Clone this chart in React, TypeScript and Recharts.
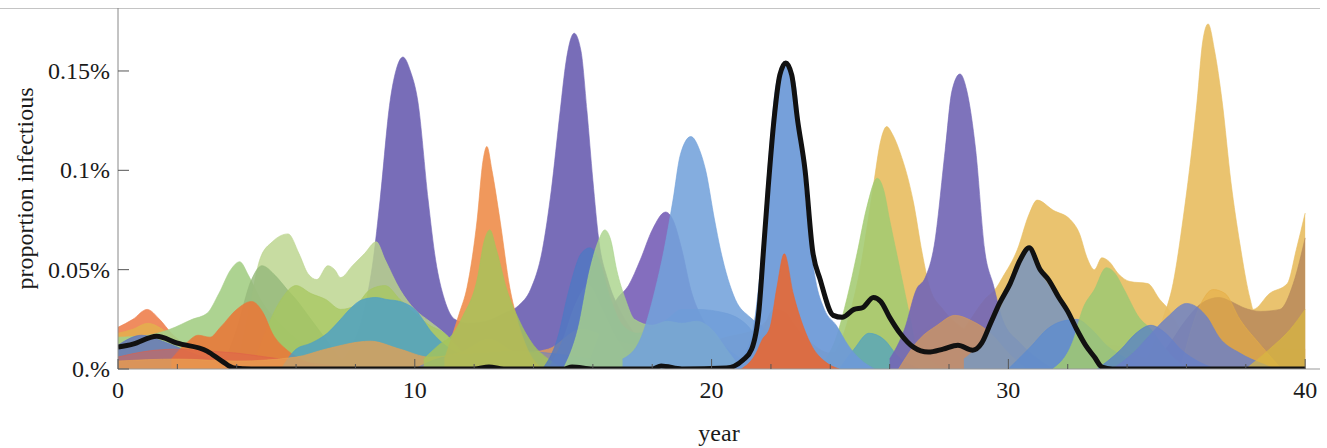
import { ComposedChart, Area, Line, XAxis, YAxis } from 'recharts';

type Pt = [number, number];

// x = year, y = proportion infectious (in %)
const X_TICKS = [0, 2, 4, 6, 8, 10, 12, 14, 16, 18, 20, 22, 24, 26, 28, 30, 32, 34, 36, 38, 40];
const Y_TICKS = [0, 0.05, 0.1, 0.15];

const salmon0: Pt[] = [[0, 0.021], [0.5, 0.025], [0.98, 0.03], [1.4, 0.025], [1.8, 0.018], [2.3, 0.012], [3, 0.008], [4, 0.004], [5, 0]];
const gold0: Pt[] = [[0, 0.018], [0.5, 0.02], [1, 0.023], [1.5, 0.02], [2, 0.014], [3, 0.008], [4, 0.004], [5, 0]];
const blue0: Pt[] = [[0, 0.012], [0.8, 0.017], [1.5, 0.014], [2.5, 0.008], [3.5, 0.003], [4.5, 0]];
const red0: Pt[] = [[0, 0.006], [1, 0.009], [2, 0.01], [3, 0.009], [4, 0.008], [5, 0.006], [6, 0.004], [7, 0.002], [8, 0]];

const greenA: Pt[] = [[0, 0.016], [1, 0.017], [1.75, 0.02], [2.5, 0.025], [3, 0.028], [3.4, 0.038], [3.8, 0.05], [4.1, 0.054], [4.4, 0.047], [4.8, 0.035], [5.3, 0.025], [6, 0.015], [7, 0.005], [8, 0]];
const greenC: Pt[] = [[4, 0], [4.3, 0.02], [4.8, 0.056], [5.2, 0.064], [5.73, 0.068], [6.1, 0.058], [6.4, 0.048], [6.7, 0.045], [7.07, 0.052], [7.3, 0.05], [7.5, 0.046], [7.9, 0.052], [8.3, 0.058], [8.7, 0.064], [9, 0.055], [9.5, 0.04], [10, 0.03], [10.5, 0.024], [11, 0.018], [11.5, 0.01], [12, 0]];
const greenB: Pt[] = [[3.5, 0], [4, 0.02], [4.5, 0.045], [4.85, 0.052], [5.3, 0.047], [5.7, 0.04], [6, 0.035], [6.5, 0.025], [7, 0.015], [7.5, 0.005], [8, 0]];
const greenD: Pt[] = [[4.5, 0], [5, 0.02], [5.5, 0.035], [6, 0.042], [6.5, 0.038], [7, 0.035], [7.5, 0.03], [8, 0.032], [8.5, 0.04], [9, 0.042], [9.5, 0.035], [10, 0.028], [10.5, 0.022], [11, 0.018], [11.5, 0.01], [12, 0]];
const orangeE: Pt[] = [[1.8, 0.005], [2.3, 0.013], [2.7, 0.017], [3.1, 0.016], [3.45, 0.021], [4, 0.03], [4.5, 0.034], [4.9, 0.028], [5.2, 0.018], [5.7, 0.0095], [6.3, 0.004], [7, 0]];
const teal: Pt[] = [[5.5, 0], [6, 0.01], [6.5, 0.013], [7.05, 0.018], [7.5, 0.025], [7.8, 0.03], [8.25, 0.035], [8.7, 0.036], [9.05, 0.035], [9.5, 0.034], [10, 0.03], [10.6, 0.018], [11.2, 0.01], [12, 0.005], [12.5, 0]];
const orangeLow: Pt[] = [[0, 0.004], [2, 0.005], [4, 0.004], [6, 0.006], [7, 0.01], [8.5, 0.014], [9.5, 0.01], [10.5, 0.006], [11.5, 0.008], [12.5, 0.015], [13.5, 0.008], [14.5, 0.01], [15.6, 0.02], [16.5, 0.016], [17.5, 0.012], [18.5, 0.014], [19.5, 0.012], [20.5, 0.016], [21.5, 0.02], [22.3, 0.028], [23.2, 0.015], [24, 0.008], [25, 0.012], [25.8, 0.02], [26.5, 0.015], [27.5, 0.022], [28.5, 0.02], [29.5, 0.012], [30.5, 0.008], [31.5, 0.01], [32.5, 0.008], [33.5, 0.012], [34.5, 0.006], [35.5, 0.004], [36.5, 0.01], [37.5, 0.015], [38.5, 0.012], [39.5, 0.01], [40, 0.01]];
const lowBlue: Pt[] = [[10, 0], [11, 0.006], [12.5, 0.008], [13.5, 0.009], [14.5, 0.008], [15.5, 0.006], [16.5, 0.004], [18, 0.004], [19.5, 0.005], [21, 0.004], [22.5, 0.003], [24, 0.004], [26, 0.003], [28, 0.004], [30, 0.003], [31, 0]];

const purple12: Pt[] = [[7, 0], [7.8, 0.01], [8.3, 0.03], [8.6, 0.055], [8.83, 0.085], [9.17, 0.135], [9.4, 0.152], [9.6, 0.157], [9.85, 0.15], [10.1, 0.135], [10.45, 0.085], [10.7, 0.055], [11, 0.035], [11.35, 0.025], [11.8, 0.023], [12.4, 0.024], [13, 0.028], [13.5, 0.032], [13.9, 0.04], [14.3, 0.06], [14.6, 0.09], [14.9, 0.13], [15.1, 0.155], [15.37, 0.169], [15.6, 0.16], [15.8, 0.13], [16, 0.095], [16.2, 0.065], [16.5, 0.045], [16.9, 0.03], [17.3, 0.02], [18, 0.008], [18.5, 0]];
const orange12: Pt[] = [[11, 0.005], [11.5, 0.028], [11.76, 0.041], [12.1, 0.075], [12.3, 0.105], [12.43, 0.112], [12.6, 0.1], [12.87, 0.075], [13.2, 0.041], [13.45, 0.025], [13.8, 0.01], [14.3, 0]];
const green12: Pt[] = [[10.3, 0.005], [10.8, 0.012], [11.3, 0.018], [11.6, 0.026], [12.1, 0.045], [12.35, 0.065], [12.53, 0.07], [12.75, 0.06], [13.1, 0.04], [13.5, 0.025], [14, 0.012], [14.5, 0.005], [15, 0]];

const purple3: Pt[] = [[15.8, 0], [16.3, 0.02], [16.8, 0.035], [17.2, 0.042], [17.6, 0.055], [18, 0.07], [18.45, 0.079], [18.7, 0.075], [19, 0.06], [19.3, 0.04], [19.7, 0.025], [20.2, 0.015], [21, 0.005], [21.5, 0]];
const slate15: Pt[] = [[14.5, 0], [15, 0.015], [15.4, 0.032], [15.85, 0.042], [16.3, 0.03], [16.8, 0.015], [17.3, 0.005], [17.8, 0]];
const midBlue: Pt[] = [[14.3, 0], [14.8, 0.015], [15.2, 0.04], [15.6, 0.058], [15.9, 0.061], [16.2, 0.055], [16.6, 0.035], [17, 0.022], [17.5, 0.018], [18, 0.02], [18.5, 0.025], [19, 0.03], [19.5, 0.03], [20.5, 0.028], [21.2, 0.022], [21.8, 0.01], [22.5, 0]];
const green16: Pt[] = [[15, 0], [15.5, 0.02], [15.9, 0.05], [16.2, 0.065], [16.4, 0.07], [16.6, 0.065], [16.8, 0.05], [17.1, 0.035], [17.4, 0.025], [18, 0.022], [18.5, 0.024], [19, 0.023], [19.5, 0.024], [20, 0.02], [20.5, 0.01], [21, 0]];
const blue19: Pt[] = [[17, 0.005], [17.6, 0.015], [18.1, 0.04], [18.4, 0.06], [18.7, 0.085], [18.95, 0.108], [19.3, 0.117], [19.6, 0.11], [19.8, 0.1], [20.1, 0.075], [20.3, 0.06], [20.8, 0.035], [21.3, 0.026], [21.8, 0.02], [22.3, 0.01], [23, 0]];

const gold1: Pt[] = [[23.8, 0], [24.5, 0.02], [25, 0.05], [25.45, 0.092], [25.7, 0.115], [25.9, 0.122], [26.1, 0.118], [26.35, 0.109], [26.8, 0.084], [27.1, 0.058], [27.35, 0.041], [27.8, 0.03], [28.5, 0.02], [29.5, 0.01], [30.5, 0]];
const gold2: Pt[] = [[27.5, 0], [28.5, 0.02], [29.2, 0.035], [29.6, 0.041], [29.8, 0.046], [30.3, 0.06], [30.7, 0.078], [30.97, 0.085], [31.5, 0.08], [32.1, 0.075], [32.4, 0.068], [32.65, 0.056], [32.9, 0.05], [33.15, 0.056], [33.4, 0.054], [33.7, 0.048], [34.1, 0.044], [34.7, 0.043], [35.1, 0.035], [35.4, 0.03], [35.8, 0.02], [36.3, 0.01], [37, 0]];
const gold3: Pt[] = [[34.5, 0], [35.2, 0.025], [35.55, 0.043], [35.9, 0.077], [36.1, 0.1], [36.36, 0.135], [36.55, 0.165], [36.73, 0.1737], [36.95, 0.16], [37.2, 0.135], [37.5, 0.094], [37.8, 0.063], [38.15, 0.035], [38.25, 0.03], [38.8, 0.038], [39.4, 0.043], [39.7, 0.06], [40, 0.0785]];
const green25: Pt[] = [[23.5, 0], [24.2, 0.016], [24.57, 0.036], [24.9, 0.058], [25.24, 0.082], [25.58, 0.096], [25.8, 0.09], [26, 0.075], [26.35, 0.05], [26.7, 0.025], [26.9, 0.011], [27.5, 0.003], [28, 0]];
const teal25: Pt[] = [[24.3, 0], [24.8, 0.01], [25.3, 0.018], [25.8, 0.015], [26.3, 0.006], [27, 0]];
const purple4: Pt[] = [[26, 0.005], [26.5, 0.02], [26.9, 0.04], [27.2, 0.046], [27.5, 0.062], [27.87, 0.11], [28.1, 0.14], [28.37, 0.1485], [28.6, 0.14], [28.9, 0.11], [29.2, 0.06], [29.5, 0.042], [29.8, 0.025], [30.4, 0.013], [31, 0.005], [31.5, 0]];
const tan28: Pt[] = [[26.3, 0], [27, 0.015], [27.6, 0.022], [28.2, 0.027], [28.8, 0.024], [29.4, 0.018], [30, 0.008], [30.6, 0]];
const brown: Pt[] = [[34.5, 0], [35.3, 0.01], [36, 0.025], [36.5, 0.033], [37.1, 0.036], [37.5, 0.034], [37.9, 0.031], [38.5, 0.029], [39.15, 0.03], [39.6, 0.043], [40, 0.066]];
const gold37: Pt[] = [[35.8, 0], [36.4, 0.03], [36.9, 0.04], [37.3, 0.038], [37.8, 0.025], [38.5, 0.012], [39.2, 0]];
const slate30: Pt[] = [[28.5, 0.005], [29.4, 0.02], [30.06, 0.042], [30.7, 0.06], [31.07, 0.049], [31.7, 0.035], [32.3, 0.019], [32.9, 0.005], [33.3, 0]];
const blue32: Pt[] = [[30, 0], [30.8, 0.012], [31.3, 0.02], [31.8, 0.024], [32.3, 0.025], [32.8, 0.02], [33.3, 0.012], [34, 0.005], [34.5, 0]];
const green33: Pt[] = [[31.5, 0], [32.2, 0.015], [32.5, 0.03], [32.9, 0.04], [33.3, 0.051], [33.6, 0.048], [33.9, 0.04], [34.4, 0.026], [34.8, 0.02], [35.3, 0.01], [36, 0]];
const blue34: Pt[] = [[33, 0], [33.8, 0.01], [34.3, 0.018], [34.8, 0.022], [35.3, 0.018], [35.8, 0.01], [36.5, 0.003], [37, 0]];
const blue36: Pt[] = [[33.5, 0], [34.2, 0.008], [34.7, 0.016], [35.35, 0.026], [36, 0.033], [36.7, 0.026], [37.1, 0.016], [37.8, 0.008], [38.5, 0.003], [39, 0]];
const yellow40: Pt[] = [[38, 0], [38.8, 0.01], [39.5, 0.02], [40, 0.03]];
const purple22: Pt[] = [[21.5, 0], [22.4, 0.025], [23.3, 0]];
const orange22: Pt[] = [[21, 0], [21.6, 0.015], [22.1, 0.03], [22.5, 0.028], [23, 0.015], [23.5, 0.005], [24, 0]];
const blue22: Pt[] = [[20.5, 0], [21, 0.005], [21.4, 0.02], [21.7, 0.06], [21.95, 0.11], [22.2, 0.145], [22.5, 0.153], [22.8, 0.145], [23, 0.115], [23.2, 0.08], [23.5, 0.045], [23.8, 0.03], [24.2, 0.022], [24.6, 0.012], [25, 0.005], [25.5, 0]];
const red22: Pt[] = [[21, 0], [21.5, 0.008], [21.7, 0.0146], [21.97, 0.021], [22.2, 0.041], [22.45, 0.058], [22.75, 0.038], [23.1, 0.021], [23.4, 0.011], [23.8, 0.004], [24.3, 0]];

const blackLine: Pt[] = [[0, 0.011], [0.5, 0.0125], [1.3, 0.0165], [2, 0.013], [3, 0.009], [3.5, 0.004], [3.9, 0.0005], [4.5, 0], [12, 0], [12.5, 0.001], [13, 0], [15, 0], [15.3, 0.001], [16, 0], [18, 0], [18.3, 0.0015], [19, 0], [20.5, 0.0005], [21.06, 0.0045], [21.35, 0.01], [21.6, 0.03], [21.75, 0.06], [21.9, 0.09], [22.1, 0.125], [22.3, 0.148], [22.5, 0.154], [22.7, 0.148], [22.9, 0.125], [23.15, 0.1], [23.4, 0.06], [23.66, 0.045], [24.1, 0.027], [24.4, 0.026], [24.8, 0.03], [25.1, 0.031], [25.45, 0.036], [25.7, 0.034], [26, 0.026], [26.35, 0.018], [26.8, 0.011], [27.3, 0.0085], [27.8, 0.01], [28.3, 0.012], [28.8, 0.0095], [29.1, 0.013], [29.4, 0.023], [29.7, 0.033], [30.06, 0.043], [30.4, 0.055], [30.7, 0.061], [31.07, 0.05], [31.35, 0.045], [31.7, 0.036], [32, 0.029], [32.3, 0.02], [32.6, 0.012], [32.9, 0.006], [33.15, 0.001], [33.5, 0], [40, 0]];

// drawing order: first is at the back
const SERIES: { key: string; pts: Pt[]; color: string; op: number }[] = [
  { key: 'salmon0', pts: salmon0, color: '#EE7F4E', op: 0.9 },
  { key: 'gold0', pts: gold0, color: '#E3B24C', op: 0.8 },
  { key: 'purple12', pts: purple12, color: '#7367B5', op: 0.96 },
  { key: 'greenA', pts: greenA, color: '#A6CF88', op: 0.92 },
  { key: 'greenC', pts: greenC, color: '#BBD48C', op: 0.82 },
  { key: 'greenB', pts: greenB, color: '#96BA7C', op: 0.85 },
  { key: 'greenD', pts: greenD, color: '#A7C75F', op: 0.75 },
  { key: 'blue0', pts: blue0, color: '#5B6CC2', op: 0.75 },
  { key: 'orangeE', pts: orangeE, color: '#E8793A', op: 0.9 },
  { key: 'red0', pts: red0, color: '#E0604A', op: 0.55 },
  { key: 'teal', pts: teal, color: '#4A9FC8', op: 0.8 },
  { key: 'orangeLow', pts: orangeLow, color: '#EAA050', op: 0.75 },
  { key: 'lowBlue', pts: lowBlue, color: '#6F86C0', op: 0.6 },
  { key: 'orange12', pts: orange12, color: '#EF8F4E', op: 0.92 },
  { key: 'green12', pts: green12, color: '#A5C55A', op: 0.82 },
  { key: 'purple3', pts: purple3, color: '#7A62B8', op: 0.92 },
  { key: 'slate15', pts: slate15, color: '#8A8FB8', op: 0.7 },
  { key: 'midBlue', pts: midBlue, color: '#4E78C4', op: 0.78 },
  { key: 'green16', pts: green16, color: '#A9D38A', op: 0.8 },
  { key: 'blue19', pts: blue19, color: '#73A2DB', op: 0.88 },
  { key: 'gold1', pts: gold1, color: '#E8BE63', op: 0.92 },
  { key: 'gold2', pts: gold2, color: '#E8BE63', op: 0.92 },
  { key: 'gold3', pts: gold3, color: '#E8BE63', op: 0.92 },
  { key: 'green25', pts: green25, color: '#A3CB72', op: 0.88 },
  { key: 'teal25', pts: teal25, color: '#4A9FC8', op: 0.7 },
  { key: 'purple4', pts: purple4, color: '#7367B5', op: 0.92 },
  { key: 'tan28', pts: tan28, color: '#D39A5E', op: 0.75 },
  { key: 'brown', pts: brown, color: '#B88A5C', op: 0.85 },
  { key: 'gold37', pts: gold37, color: '#E6AE45', op: 0.6 },
  { key: 'slate30', pts: slate30, color: '#7F98B8', op: 0.92 },
  { key: 'blue32', pts: blue32, color: '#5B8BD0', op: 0.75 },
  { key: 'green33', pts: green33, color: '#9FC873', op: 0.88 },
  { key: 'blue34', pts: blue34, color: '#4F7AD0', op: 0.7 },
  { key: 'blue36', pts: blue36, color: '#6A80C8', op: 0.82 },
  { key: 'yellow40', pts: yellow40, color: '#D9B840', op: 0.7 },
  { key: 'purple22', pts: purple22, color: '#8A70B0', op: 0.7 },
  { key: 'orange22', pts: orange22, color: '#E79A4F', op: 0.75 },
  { key: 'blue22', pts: blue22, color: '#6D9AD8', op: 0.94 },
  { key: 'red22', pts: red22, color: '#E96630', op: 0.88 },
];

const toRows = (pts: Pt[]) => pts.map(([x, y]) => ({ x, y }));

const FONT = '"Liberation Serif", "Times New Roman", serif';

const fmtY = (v: number) => (v === 0 ? '0.%' : `${v}%`);

function XTick(props: any) {
  const { x, y, payload } = props;
  const major = payload.value % 10 === 0;
  return (
    <g>
      <line x1={x} x2={x} y1={y} y2={y - (major ? 10 : 5)} stroke="#555" strokeWidth={1} />
      {major && (
        <text x={x} y={y + 29} textAnchor="middle" fontSize={24} fill="#1a1a1a" fontFamily={FONT}>
          {payload.value}
        </text>
      )}
    </g>
  );
}

function YTick(props: any) {
  const { x, y, payload } = props;
  return (
    <g>
      <line x1={x} x2={x + 11} y1={y} y2={y} stroke="#555" strokeWidth={1} />
      <text x={x - 8} y={y + 8} textAnchor="end" fontSize={24} fill="#1a1a1a" fontFamily={FONT}>
        {fmtY(payload.value)}
      </text>
    </g>
  );
}

export default function App() {
  return (
    <div style={{ position: 'relative', width: 1327, height: 448, background: '#fff', fontFamily: FONT }}>
      <style>{'body{margin:0}'}</style>
      {/* thin frame line along the top */}
      <div style={{ position: 'absolute', left: 0, top: 8, width: 1320, height: 1, background: '#c4c4c4' }} />
      <ComposedChart width={1327} height={448} margin={{ top: 8, right: 7, left: 0, bottom: 0 }}>
        <XAxis
          dataKey="x"
          type="number"
          domain={[0, 40.5]}
          ticks={X_TICKS}
          interval={0}
          height={79}
          tickSize={0}
          tickMargin={0}
          tick={<XTick />}
          axisLine={{ stroke: '#999' }}
          allowDataOverflow
          label={({ viewBox }: any) => (
            <text x={viewBox.x + viewBox.width / 2} y={viewBox.y + 72} textAnchor="middle" fontSize={24} fill="#1a1a1a" fontFamily={FONT}>
              year
            </text>
          )}
        />
        <YAxis
          type="number"
          domain={[0, 0.1817]}
          ticks={Y_TICKS}
          width={118}
          tickSize={0}
          tickMargin={0}
          tick={<YTick />}
          axisLine={{ stroke: '#888' }}
          allowDataOverflow
          label={({ viewBox }: any) => {
            const cx = viewBox.x + 25;
            const cy = viewBox.y + viewBox.height / 2;
            return (
              <text x={cx} y={cy} transform={`rotate(-90 ${cx} ${cy})`} textAnchor="middle" dominantBaseline="central" fontSize={24} fill="#1a1a1a" fontFamily={FONT}>
                proportion infectious
              </text>
            );
          }}
        />
        {SERIES.map(s => (
          <Area
            key={s.key}
            data={toRows(s.pts)}
            dataKey="y"
            type="monotone"
            fill={s.color}
            fillOpacity={s.op}
            stroke={s.color}
            strokeOpacity={0.6}
            strokeWidth={1}
            isAnimationActive={false}
          />
        ))}
        <Line
          data={toRows(blackLine)}
          dataKey="y"
          type="monotone"
          stroke="#111"
          strokeWidth={5}
          dot={false}
          isAnimationActive={false}
        />
      </ComposedChart>
    </div>
  );
}
